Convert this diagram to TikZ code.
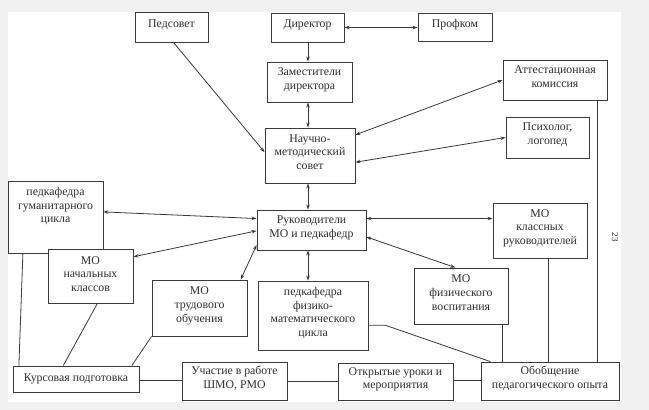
\documentclass[tikz,border=0pt]{standalone}
\usepackage{fontspec}
\setmainfont{Liberation Serif}
\usetikzlibrary{arrows.meta,calc}
\definecolor{bggray}{HTML}{F1F1F1}
\definecolor{ink}{HTML}{3A3A3A}
\definecolor{txt}{HTML}{2E2E2E}
\tikzset{
  box/.style={draw=ink, line width=0.9pt, fill=white, inner sep=1pt, align=center,
    text=txt, font=\fontsize{11.8}{13.8}\selectfont, text depth=7pt},
  link/.style={draw=ink, line width=0.8pt},
  biarr/.style={link, {Stealth[length=5pt,width=3.5pt]}-{Stealth[length=5pt,width=3.5pt]}},
  onearr/.style={link, -{Stealth[length=5pt,width=3.5pt]}},
}
\newcommand{\mybox}[7][]{\node[box, minimum width=#5pt, minimum height=#6pt, #1] (#2) at (#3,#4) {#7};}
\begin{document}
\begin{tikzpicture}[x=1pt,y=-1pt]
\fill[bggray] (0,0) rectangle (649,410);
\fill[white] (8,12) rectangle (621,402);
\useasboundingbox (0,0) rectangle (649,410);

\mybox{pedsovet}{171.5}{27}{73}{30}{Педсовет}
\mybox{director}{307.5}{27.5}{73}{29}{Директор}
\mybox{profkom}{455}{27}{74}{28}{Профком}
\mybox{zam}{309.5}{82}{85}{40}{Заместители\\директора}
\mybox{nms}{310}{155.5}{90}{55}{Научно-\\методический\\совет}
\mybox{att}{555}{80}{104}{40}{Аттестационная\\комиссия}
\mybox{psych}{547.5}{137.5}{83}{41}{Психолог,\\логопед}
\mybox[text depth=24pt]{gum}{55.5}{217}{95}{72}{педкафедра\\гуманитарного\\цикла}
\mybox{ruk}{311.5}{230}{109}{40}{Руководители\\МО и педкафедр}
\mybox[text depth=4pt]{nach}{90.5}{276}{85}{54}{МО\\начальных\\классов}
\mybox{trud}{199.5}{308}{95}{56}{МО\\трудового\\обучения}
\mybox{fizmat}{313}{315.5}{110}{69}{педкафедра\\физико-\\математического\\цикла}
\mybox{klass}{540}{230.5}{94}{55}{МО\\классных\\руководителей}
\mybox{fizv}{461}{296}{94}{56}{МО\\физического\\воспитания}
\mybox[text depth=3pt]{kurs}{76}{379}{126}{26}{Курсовая подготовка}
\mybox{uch}{234.5}{381}{105}{38}{Участие в работе\\ШМО, РМО}
\mybox{otkr}{395.5}{381.5}{115}{37}{Открытые уроки и\\мероприятия}
\mybox{obob}{550}{381}{138}{38}{Обобщение\\педагогического опыта}

\node[text=txt, font=\fontsize{9}{10}\selectfont, rotate=-90] (pnum) at (615,237) {23};

% top part
\coordinate (dx) at ($(director.south)+(0.5,0)$);
\draw[onearr] (dx) -- (dx |- zam.north);
\draw[biarr] (director.east) -- (director.east -| profkom.west);
\coordinate (zx) at ($(zam.south)+(-1.5,0)$);
\draw[biarr] (zx) -- (zx |- nms.north);
\draw[onearr] ($(pedsovet.south)+(2,0)$) -- ($(nms.north west)!0.44!(nms.south west)$);
\draw[biarr] ($(nms.north east)!0.13!(nms.south east)$) -- (att.west);
\draw[biarr] ($(nms.north east)!0.62!(nms.south east)$) -- (psych.west);
\coordinate (nx) at ($(nms.south)+(-2,0)$);
\draw[biarr] (nx) -- (nx |- ruk.north);

% around Руководители
\draw[biarr] ($(ruk.north west)!0.22!(ruk.south west)$) -- ($(gum.north east)!0.43!(gum.south east)$);
\draw[biarr] ($(ruk.north west)!0.52!(ruk.south west)$) -- ($(nach.north east)!0.15!(nach.south east)$);
\draw[biarr] ($(ruk.north west)!0.87!(ruk.south west)$) -- ($(trud.north west)!0.93!(trud.north east)$);
\coordinate (rx) at ($(ruk.south)+(-3.5,0)$);
\draw[biarr] (rx) -- (rx |- fizmat.north);
\coordinate (re) at ($(ruk.north east)!0.22!(ruk.south east)$);
\draw[biarr] (re) -- (re -| klass.west);
\draw[biarr] ($(ruk.north east)!0.67!(ruk.south east)$) -- ($(fizv.north west)!0.44!(fizv.north east)$);

% plain lines
\draw[link] ($(gum.south west)!0.16!(gum.south east)$) -- ($(kurs.north west)!0.05!(kurs.north east)$);
\draw[link] ($(nach.south west)!0.58!(nach.south east)$) -- ($(kurs.north west)!0.4!(kurs.north east)$);
\draw[link] (trud.south west) -- ($(kurs.north west)!0.94!(kurs.north east)$);
\coordinate (ke) at ($(kurs.east)+(0,1)$);
\draw[link] (ke) -- (ke -| uch.west);
\draw[link] (uch.east) -- (uch.east -| otkr.west);
\coordinate (oe) at ($(otkr.east)+(0,-1)$);
\draw[link] (oe) -- (oe -| obob.west);
\coordinate (fe) at ($(fizmat.north east)!0.64!(fizmat.south east)$);
\draw[link] (fe) -- ++(17,0) -- ($(obob.north west)!0.07!(obob.north east)$);
\coordinate (fvb) at ($(fizv.south west)!0.94!(fizv.south east)$);
\draw[link] (fvb) -- (fvb |- obob.north);
\coordinate (kb) at ($(klass.south west)!0.585!(klass.south east)$);
\draw[link] (kb) -- (kb |- obob.north);
\coordinate (ab) at ($(att.south west)!0.9!(att.south east)$);
\draw[link] (ab) -- (ab |- obob.north);
\end{tikzpicture}
\end{document}
